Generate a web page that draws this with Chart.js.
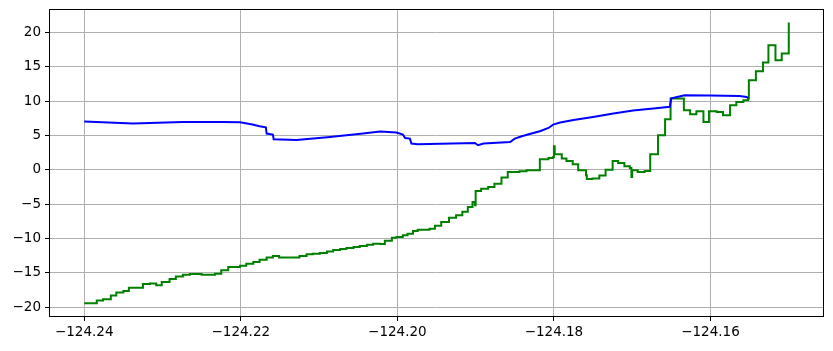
<!DOCTYPE html>
<html>
<head>
<meta charset="utf-8">
<script src="https://cdn.jsdelivr.net/npm/chart.js@4/dist/chart.umd.min.js"></script>
<style>
  html, body { margin: 0; padding: 0; background: #fff; }
  #wrap { width: 833px; height: 351px; }
</style>
</head>
<body>
<div id="wrap"><canvas id="chart" width="833" height="351"></canvas></div>
<script>
// values

const blueX = [-124.24, -124.2338, -124.2274, -124.2223, -124.2201, -124.2185, -124.2176, -124.2168,
  -124.2167, -124.2159, -124.2158, -124.2129, -124.2086, -124.2044, -124.2022, -124.2001, -124.1993,
  -124.1990, -124.1984, -124.1982, -124.1974, -124.1901, -124.1897, -124.1890, -124.1856, -124.1850,
  -124.1841, -124.1831, -124.1818, -124.1807, -124.1801, -124.1792, -124.1775, -124.1750, -124.1724,
  -124.1699, -124.1673, -124.1652, -124.1650, -124.1633, -124.1601, -124.1563, -124.1554, -124.1552];
const blueY = [7.01, 6.72, 6.95, 6.95, 6.91, 6.57, 6.33, 6.18,
  5.26, 5.12, 4.43, 4.33, 4.77, 5.26, 5.55, 5.41, 5.12,
  4.62, 4.53, 3.80, 3.70, 3.89, 3.56, 3.80, 4.04, 4.53,
  4.87, 5.20, 5.60, 6.08, 6.57, 6.87, 7.24, 7.68, 8.18,
  8.62, 8.91, 9.17, 10.41, 10.85, 10.80, 10.74, 10.60, 10.45];

const greenX = [-124.24, -124.2384, -124.2376, -124.2366, -124.2359, -124.2350, -124.2343, -124.2325,
  -124.2316, -124.2308, -124.2301, -124.2291, -124.2283, -124.2274, -124.2265, -124.2250, -124.2233,
  -124.2225, -124.2216, -124.2201, -124.2193, -124.2184, -124.2176, -124.2167, -124.2159, -124.2151,
  -124.2125, -124.2116, -124.2108, -124.2099, -124.2090, -124.2082, -124.2073, -124.2065, -124.2056,
  -124.2048, -124.2039, -124.2031, -124.2022, -124.2016, -124.2007, -124.2001, -124.1993, -124.1987,
  -124.1980, -124.1974, -124.1959, -124.1952, -124.1944, -124.1934, -124.1925, -124.1917, -124.1910,
  -124.1904, -124.1901, -124.1900, -124.1893, -124.1884, -124.1876, -124.1867, -124.1859, -124.1844,
  -124.1835, -124.1818, -124.1807, -124.1801, -124.1800, -124.1799, -124.1790, -124.1784, -124.1776,
  -124.1769, -124.1759, -124.1758, -124.1751, -124.1742, -124.1734, -124.1725, -124.1718, -124.1710,
  -124.1703, -124.1701, -124.1700, -124.1693, -124.1684, -124.1677, -124.1667, -124.1658, -124.1651,
  -124.1634, -124.1626, -124.1618, -124.1609, -124.1602, -124.1592, -124.1584, -124.1575, -124.1567,
  -124.1558, -124.1552, -124.1551, -124.1542, -124.1533, -124.1526, -124.1517, -124.1509, -124.1500];
const greenY = [-19.43, -19.04, -18.85, -18.31, -17.87, -17.68, -17.19, -16.66,
  -16.56, -16.81, -16.37, -15.93, -15.54, -15.29, -15.20, -15.29, -15.15,
  -14.66, -14.18, -13.98, -13.69, -13.45, -13.10, -12.77, -12.58, -12.77,
  -12.58, -12.33, -12.23, -12.14, -11.90, -11.71, -11.56, -11.41, -11.27,
  -11.12, -10.92, -10.77, -10.83, -10.34, -9.90, -9.81, -9.56, -9.31,
  -8.94, -8.73, -8.59, -8.15, -7.62, -6.98, -6.65, -6.11, -5.44,
  -4.71, -5.19, -3.10, -2.76, -2.52, -2.03, -1.15, -0.34, -0.23,
  -0.09, 1.52, 1.71, 1.85, 3.41, 2.24, 1.62, 1.27, 0.79,
  -0.09, -0.82, -1.36, -1.30, -0.86, 0.01, 1.27, 0.98, 0.50,
  0.25, -1.06, -0.09, -0.34, -0.19, 2.24, 5.01, 7.35, 10.36,
  8.66, 8.08, 8.51, 6.95, 8.51, 8.41, 7.93, 9.39, 9.87,
  10.12, 10.36, 13.03, 14.34, 15.61, 18.13, 15.95, 16.92, 21.45];

const xTicks = [-124.24, -124.22, -124.20, -124.18, -124.16];
const yTicks = [-20, -15, -10, -5, 0, 5, 10, 15, 20];

const toPoints = (xs, ys) => xs.map((x, i) => ({ x: x, y: ys[i] }));
const fmt = (v, digits) => (v < 0 ? '\u2212' : '') + Math.abs(v).toFixed(digits);

// black box round the plot area, like the reference
const frame = {
    id: 'frame',
    afterDraw(chart) {
        const a = chart.chartArea;
        const ctx = chart.ctx;
        ctx.save();
        ctx.strokeStyle = '#000';
        ctx.lineWidth = 1;
        ctx.strokeRect(a.left + 0.5, a.top + 0.5, a.right - a.left - 1, a.bottom - a.top - 1);
        ctx.restore();
    }
};

const font = { family: 'DejaVu Sans', size: 13.5 };

new Chart(document.getElementById('chart'), {
    type: 'line',
    data: {
        datasets: [{
            data: toPoints(blueX, blueY),
            borderColor: '#0000ff',
            borderWidth: 2,
            pointRadius: 0,
            tension: 0
        }, {
            data: toPoints(greenX, greenY),
            borderColor: '#008000',
            borderWidth: 2,
            pointRadius: 0,
            stepped: 'before'
        }]
    },
    options: {
        responsive: false,
        animation: false,
        layout: { padding: { top: 9, right: 9, left: 0, bottom: 0 } },
        plugins: { legend: { display: false }, tooltip: { enabled: false } },
        scales: {
            x: {
                type: 'linear',
                min: -124.2445,
                max: -124.1455,
                afterFit: s => { s.height = 34; s.paddingLeft = 0; s.paddingRight = 0; },
                afterBuildTicks: s => { s.ticks = xTicks.map(v => ({ value: v })); },
                grid: { color: '#b0b0b0', lineWidth: 1, tickColor: '#000', tickLength: 4 },
                border: { display: false },
                ticks: {
                    color: '#000', font: font, padding: 3, maxRotation: 0, autoSkip: false,
                    callback: v => fmt(v, 2)
                }
            },
            y: {
                min: -21.45,
                max: 23.4,
                afterFit: s => { s.width = 49; s.paddingTop = 0; s.paddingBottom = 0; },
                afterBuildTicks: s => { s.ticks = yTicks.map(v => ({ value: v })); },
                grid: { color: '#b0b0b0', lineWidth: 1, tickColor: '#000', tickLength: 4 },
                border: { display: false },
                ticks: { color: '#000', font: font, padding: 4, callback: v => fmt(v, 0) }
            }
        }
    },
    plugins: [frame]
});
</script>
</body>
</html>
